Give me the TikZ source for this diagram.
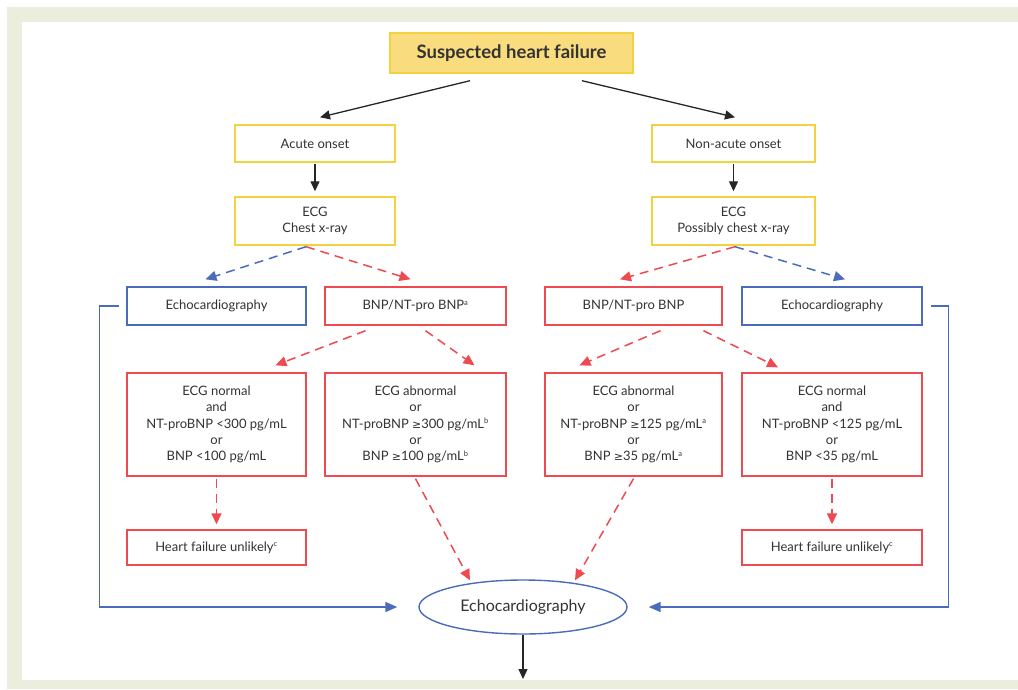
\documentclass[tikz,border=0pt]{standalone}
\usepackage{fontspec}
\setmainfont{Lato}
\newfontfamily\symfont{DejaVu Sans}
\newcommand{\gesym}{{\symfont\fontsize{11}{16}\selectfont ≥}}
\newcommand{\supr}[1]{\textsuperscript{\fontsize{7.5}{7.5}\selectfont #1}}
\usetikzlibrary{arrows.meta,shapes.geometric}
\definecolor{bggreen}{HTML}{EBEEDD}
\definecolor{ylwfill}{HTML}{F8DC7E}
\definecolor{ylwline}{HTML}{F3D23F}
\definecolor{hfred}{HTML}{EF4A4F}
\definecolor{hfblue}{HTML}{4A6CBB}
\definecolor{txt}{HTML}{333333}
\tikzset{
  base/.style={draw, line width=1.4pt, text=txt, align=center, font=\fontsize{13}{16.2}\selectfont, inner sep=0pt},
  ybox/.style={base, draw=ylwline},
  rbox/.style={base, draw=hfred},
  bbox/.style={base, draw=hfblue},
  blk/.style={line width=1.3pt, draw=black!85, -{Triangle[length=10pt,width=9pt]}},
  rdash/.style={line width=1.5pt, draw=hfred, dash pattern=on 9pt off 6pt, -{Triangle[length=11pt,width=10pt]}},
  bdash/.style={line width=1.5pt, draw=hfblue, dash pattern=on 9pt off 6pt, -{Triangle[length=11pt,width=10pt]}},
  bline/.style={line width=1.5pt, draw=hfblue, -{Triangle[length=12pt,width=10pt]}},
}
\begin{document}
\begin{tikzpicture}[x=1pt,y=-1pt]
\useasboundingbox (0,0) rectangle (1018,689);
\fill[bggreen] (7,7) rectangle (1018,689);
\fill[white] (22,22) rectangle (1018,680);

\node[ybox, fill=ylwfill, minimum width=243pt, minimum height=40pt, font=\fontsize{18.5}{20}\selectfont\bfseries] (top) at (511.5,53) {Suspected heart failure};

\node[ybox, minimum width=160pt, minimum height=37pt] (acute) at (315,143.5) {Acute onset};
\node[ybox, minimum width=163pt, minimum height=37pt] (nonacute) at (733.5,143.5) {Non-acute onset};

\node[ybox, minimum width=160pt, minimum height=48pt] (ecgL) at (315,221) {ECG\\Chest x-ray};
\node[ybox, minimum width=163pt, minimum height=48pt] (ecgR) at (733.5,221) {ECG\\Possibly chest x-ray};

\node[bbox, minimum width=179pt, minimum height=38pt] (echoL) at (216.5,306) {Echocardiography};
\node[rbox, minimum width=181pt, minimum height=38pt] (bnpL) at (415.5,306) {BNP/NT-pro BNP\supr{a}};
\node[rbox, minimum width=177pt, minimum height=38pt] (bnpR) at (633.5,306) {BNP/NT-pro BNP};
\node[bbox, minimum width=180pt, minimum height=38pt] (echoR) at (832,306) {Echocardiography};

\node[rbox, minimum width=179pt, minimum height=103pt] (r4a) at (216.5,424.5) {ECG normal\\and\\NT-proBNP <300 pg/mL\\or\\BNP <100 pg/mL};
\node[rbox, minimum width=181pt, minimum height=103pt] (r4b) at (415.5,424.5) {ECG abnormal\\or\\NT-proBNP \gesym300 pg/mL\supr{b}\\or\\BNP \gesym100 pg/mL\supr{b}};
\node[rbox, minimum width=177pt, minimum height=103pt] (r4c) at (633.5,424.5) {ECG abnormal\\or\\NT-proBNP \gesym125 pg/mL\supr{a}\\or\\BNP \gesym35 pg/mL\supr{a}};
\node[rbox, minimum width=180pt, minimum height=103pt] (r4d) at (832,424.5) {ECG normal\\and\\NT-proBNP <125 pg/mL\\or\\BNP <35 pg/mL};

\node[rbox, minimum width=179pt, minimum height=35pt] (hfL) at (216.5,547.5) {Heart failure unlikely\supr{c}};
\node[rbox, minimum width=180pt, minimum height=35pt] (hfR) at (832,547.5) {Heart failure unlikely\supr{c}};

\node[bbox, ellipse, minimum width=208pt, minimum height=54pt, font=\fontsize{16}{18}\selectfont] (ell) at (523,607) {Echocardiography};
\coordinate (out) at (523,679);

% black arrows
\draw[blk] ([xshift=-41.5pt,yshift=-7pt]top.south) -- ([xshift=5pt,yshift=7pt]acute.north);
\draw[blk] ([xshift=70.5pt,yshift=-7pt]top.south) -- ([xshift=1.5pt,yshift=7pt]nonacute.north);
\draw[blk] ([yshift=-1pt]acute.south) -- ([yshift=5pt]ecgL.north);
\draw[blk] ([yshift=-1pt]nonacute.south) -- ([yshift=5pt]ecgR.north);
\draw[blk] (ell.south) -- (out);

% dashed from ECG boxes
\draw[bdash] ([xshift=-9pt,yshift=-1pt]ecgL.south) -- ([xshift=-11pt,yshift=7pt]echoL.north);
\draw[rdash] ([xshift=-9pt,yshift=-1pt]ecgL.south) -- ([xshift=-5pt,yshift=7pt]bnpL.north);
\draw[rdash] ([xshift=1.5pt,yshift=-1pt]ecgR.south) -- ([xshift=-13.5pt,yshift=7pt]bnpR.north);
\draw[bdash] ([xshift=1.5pt,yshift=-1pt]ecgR.south) -- ([xshift=13pt,yshift=7pt]echoR.north);

% dashed from BNP boxes
\draw[rdash] ([xshift=-50pt,yshift=-5pt]bnpL.south) -- ([xshift=59pt,yshift=7pt]r4a.north);
\draw[rdash] ([xshift=10pt,yshift=-5pt]bnpL.south) -- ([xshift=59pt,yshift=7pt]r4b.north);
\draw[rdash] ([xshift=27pt,yshift=-5pt]bnpR.south) -- ([xshift=-54pt,yshift=7pt]r4c.north);
\draw[rdash] ([xshift=70pt,yshift=-5pt]bnpR.south) -- ([xshift=-54pt,yshift=5pt]r4d.north);

% row 4 down
\draw[rdash] ([yshift=-2pt]r4a.south) -- ([yshift=5pt]hfL.north);
\draw[rdash] ([yshift=-2pt]r4d.south) -- ([yshift=5pt]hfR.north);
\draw[rdash] ([yshift=-2pt]r4b.south) -- ([xshift=-53pt,yshift=-1pt]ell.north);
\draw[rdash] ([yshift=-2pt]r4c.south) -- ([xshift=52pt,yshift=-1pt]ell.north);

% blue side loops
\draw[bline] ([xshift=-7pt]echoL.west) -- ++(-20,0) |- ([xshift=-21pt]ell.west);
\draw[bline] ([xshift=8pt]echoR.east) -- ++(18,0) |- ([xshift=21pt]ell.east);
\end{tikzpicture}
\end{document}
